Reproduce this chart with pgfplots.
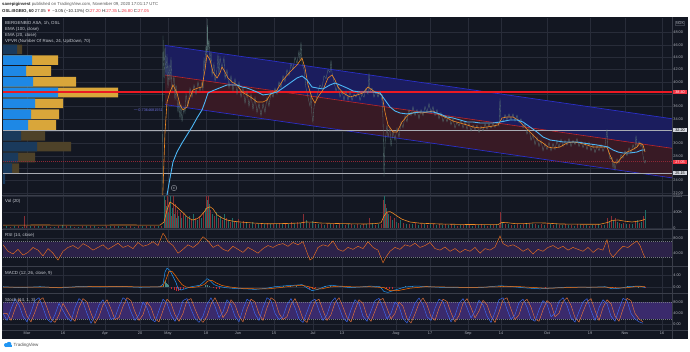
\documentclass[border=0pt]{standalone}
\usepackage{pgfplots}
\pgfplotsset{compat=1.18}
\usepackage{fontspec}
\setmainfont{Liberation Sans}
\definecolor{bg}{HTML}{131722}
\definecolor{gridc}{HTML}{282C39}
\definecolor{sepc}{HTML}{3A3E4A}
\definecolor{axt}{HTML}{B2B5BE}
\definecolor{lgt}{HTML}{C8CBD3}
\definecolor{emab}{HTML}{4DB6F5}
\definecolor{emao}{HTML}{F08A24}
\definecolor{chanB}{HTML}{1B1D5E}
\definecolor{chanR}{HTML}{381A25}
\definecolor{chanLB}{HTML}{2A2FC8}
\definecolor{chanLR}{HTML}{C0262E}
\definecolor{pocred}{RGB}{235,25,35}
\definecolor{hline}{HTML}{A8ABB3}
\definecolor{vpB}{HTML}{1E88E5}
\definecolor{vpY}{HTML}{D9A63A}
\definecolor{vpBd}{HTML}{1A3A5C}
\definecolor{vpYd}{HTML}{4E4229}
\definecolor{candle}{HTML}{5A7775}
\definecolor{volT}{HTML}{1F6E68}
\definecolor{volR}{HTML}{8A2E35}
\definecolor{rsiband}{HTML}{2C2249}
\definecolor{stband}{HTML}{3A2A6C}
\definecolor{rsil}{HTML}{EE7020}
\definecolor{macdb}{HTML}{2196F3}
\definecolor{macdo}{HTML}{FF6D00}
\definecolor{stK}{HTML}{3D6BF5}
\definecolor{stD}{HTML}{E8743B}
\definecolor{tvred}{HTML}{F23645}
\definecolor{tvlight}{HTML}{D1D4DC}
\pgfplotsset{
 panel/.style={scale only axis, width=669pt, xmin=3, xmax=672,
   axis line style={draw=none}, major tick length=0pt, tick style={draw=none},
   xtick={27,63,105,140,168,206,238,274,313,342,396,430,468,501,547,590,625,662},
   xticklabels={}, grid=major, major grid style={draw=gridc, line width=0.4pt},
   yticklabel pos=right,
   yticklabel style={font=\fontsize{3.8}{4}\selectfont, text=axt, anchor=west, xshift=1.2pt, inner sep=0pt},
   clip mode=individual, anchor=south west},
}
\begin{document}
\begin{tikzpicture}[x=1pt,y=1pt]
\useasboundingbox (0,0) rectangle (690,351);
\fill[white] (0,0) rectangle (690,351);
\fill[bg] (2,12) rectangle (688,334);

% ===== main price panel =====
\begin{axis}[panel, at={(3pt,156pt)}, height=177pt, ymin=21.63, ymax=50.36,
  ytick={22,24,26,28,30,32,34,36,38,40,42,44,46,48},
  yticklabels={22.00,24.00,,28.00,30.00,,34.00,36.00,,40.00,42.00,44.00,46.00,48.00}]
% VPVR
\addplot[xbar, bar shift=0pt, bar width=1.57, fill=vpY, draw=none] table {
x y
58 43.52
51 41.77
76 40.01
118 38.26
63 36.50
59 34.75
56 32.99
};
\addplot[xbar, bar shift=0pt, bar width=1.57, fill=vpB, draw=none] table {
x y
32 43.52
26 41.77
33 40.01
58 38.26
35 36.50
31 34.75
28 32.99
};
\addplot[xbar, bar shift=0pt, bar width=1.57, fill=vpYd, draw=none] table {
x y
22 45.27
45 31.24
71 29.48
35 27.73
19 25.97
};
\addplot[xbar, bar shift=0pt, bar width=1.57, fill=vpBd, draw=none] table {
x y
17 45.27
21 31.24
37 29.48
18 27.73
12 25.97
5 24.22
};
% regression channel
\addplot[fill=chanB, draw=none] coordinates {(165,45.91) (672,34.01) (672,29.21) (165,41.11)} -- cycle;
\addplot[fill=chanR, draw=none] coordinates {(165,41.11) (672,29.21) (672,24.41) (165,36.31)} -- cycle;
\addplot[chanLB, line width=0.7pt] coordinates {(165,45.91) (672,34.01)};
\addplot[chanLR, line width=0.6pt] coordinates {(165,41.11) (672,29.21)};
\addplot[chanLB, line width=0.7pt] coordinates {(165,36.31) (672,24.41)};
% horizontal lines
\addplot[hline, line width=0.6pt] coordinates {(3,32.2) (672,32.2)};
\addplot[hline, line width=0.6pt] coordinates {(3,25.15) (672,25.15)};
\addplot[tvred!55!bg, line width=0.4pt, dash pattern=on 1pt off 1pt] coordinates {(3,27.05) (672,27.05)};
\addplot[color=pocred, fill=pocred, draw=none] coordinates {(3,38.25) (672,38.25) (672,38.55) (3,38.55)} -- cycle;
% candles (high/low path)
\addplot[candle, line width=0.3pt] table {
x y
162 21.0
163 47.5
164 40
165 46
166 41
167 44.5
168 39
169 43
170 40
171 44
172 38.5
174 41
175 37
176 39.5
178 35
179 37
180 34
181 36.5
182 33.5
184 36
185 35
186 38
188 36
190 39
192 37.5
194 39.5
196 38
198 40
200 38.5
202 40
203 38.5
204 44
205 42
206 46
207 44
207.5 50.2
208 45
209 47
210 43
211 45
212 41
214 43
215 40
217 42
218 44.5
219 41
220 44
222 42
224 44
225 40.5
227 42
229 39
231 41
233 38.5
235 40.5
237 38
239 40
241 37.5
243 39
245 36.5
247 38.5
249 36
251 38
253 35.5
255 37.5
257 35
259 36.5
261 34.5
263 36.5
265 35
267 37.5
269 36
271 38.5
273 37.5
275 39
277 38
279 40
281 39
283 41
285 40
287 42
289 41
291 43
293 42
295 44
297 43
299 45
300 43.5
301 46.5
302 43
304 42
306 39
308 37.5
310 36
311 38
312 34.5
313 33.4
314 36
316 37
318 38.5
320 39.5
322 39
324 41
326 40.5
328 42
330 41.5
331 43.5
332 41.5
334 40
336 38.5
338 39.5
340 37.5
342 38.5
344 37
346 38.5
348 37
350 38.5
352 37
354 38
356 37.5
358 38.5
360 37
362 38
364 37.5
366 39
368 38
369 41.5
370 38.5
372 39
374 37.5
376 38.5
378 37.5
380 38.5
382 37
383 34
384 24.6
385 30
387 33
388 31
390 32.5
391 29.5
393 32
395 30.5
397 32.5
399 31
401 33.5
403 32.5
405 34.5
407 33.5
409 35.5
411 34.5
413 36
415 34.5
417 35.5
419 34
421 35.5
423 34.5
425 36
427 35
429 36.5
431 35
433 36
435 34.5
437 35.5
439 34
441 35
443 33.5
445 34.5
447 33.5
449 34.5
451 33
453 34
455 32.5
457 33.5
459 32.8
461 33.8
463 32.5
465 33.5
467 32.3
469 33.3
471 32
473 33
475 32.2
477 33
479 31.8
481 32.8
483 32
485 33.2
487 32.3
489 33.2
491 32.5
493 33.2
495 32.6
497 33.5
499 32.8
500 37.3
501 34
503 33.5
505 34.7
507 33.8
509 34.8
511 33.8
513 34.8
515 33.6
517 34.6
519 33.4
521 34
523 32.5
525 33.2
527 31.5
529 32.5
531 30.5
533 31.5
535 29.8
537 31
539 29.5
541 30.5
543 28.8
545 30
547 29
549 30.2
551 28.8
553 30
555 29
557 30.5
559 29.3
561 30.7
563 29.5
565 30.5
567 29.7
569 30.8
571 29.5
573 30.5
575 29.8
577 30.8
579 29.5
581 30.3
583 29.3
585 30.2
587 29
589 30.2
591 28.8
593 29.8
595 28.5
597 29.6
599 28.8
601 29.8
603 28.7
605 29.6
607 32.3
608 29
610 27.5
612 27.8
613 26
614 27
615 25.7
617 27.5
619 26.8
621 28.2
623 27.6
625 28.8
627 28
629 29.3
631 28.5
633 29.8
635 29
636 31.3
637 29.5
639 30.3
641 29.5
642 30
643 28
644 27.2
645 26.8
645.5 27.3
};
% EMA 20
\addplot[emao, line width=0.6pt] table {
x y
162 18
165 31.86
167 36.73
170 38.35
173 39.49
177 38.19
180 36.24
183 35.43
187 35.92
190 37.54
193 38.68
198 39.00
202 39.16
205 41.92
207 44.36
210 43.55
213 41.60
217 40.62
220 41.44
222 42.41
225 41.60
228 40.62
232 39.97
237 39.49
242 38.35
247 37.87
252 37.38
257 36.73
263 36.73
267 37.05
270 37.87
277 38.68
283 40.30
290 41.60
297 42.73
302 43.87
305 42.25
308 39.49
312 37.38
315 36.57
318 37.54
323 38.68
328 40.62
332 41.11
335 40.30
338 39.16
343 38.19
350 37.54
357 37.87
363 38.19
368 39.16
372 38.68
377 38.19
382 37.87
385 35.11
388 33.00
393 31.86
397 31.86
402 33.48
408 34.62
415 35.11
422 34.94
428 35.11
433 35.27
440 34.62
447 34.13
453 33.64
460 33.32
467 33.00
473 32.67
480 32.51
487 32.67
493 32.83
498 33.00
502 34.13
507 34.29
513 34.29
518 33.81
523 33.00
528 32.18
533 31.37
538 30.56
543 30.07
548 29.42
553 29.26
560 29.42
567 30.07
573 30.24
580 30.07
587 29.75
593 29.42
600 29.42
607 29.42
610 28.12
613 26.99
617 26.82
622 27.80
627 28.61
632 28.94
637 29.42
640 30.07
643 29.75
645 28.61
};
% EMA 100
\addplot[emab, line width=0.9pt] table {
x y
166 19
167 21.63
170 24.39
173 26.99
177 28.61
182 30.07
187 31.37
192 32.67
197 34.13
202 35.43
205 36.73
208 38.19
212 38.51
217 38.84
222 39.16
227 39.49
232 39.49
237 39.49
242 39.16
247 39.00
252 38.68
257 38.35
263 37.87
270 38.03
277 38.35
283 39.00
290 39.81
297 40.62
302 40.95
307 40.30
312 39.16
317 39.00
323 38.84
330 39.49
335 39.81
340 39.49
347 39.00
353 38.51
360 38.35
367 38.35
373 38.35
380 38.19
385 37.05
390 35.92
395 35.27
400 34.94
407 34.78
413 34.94
420 35.11
427 35.11
433 35.11
440 34.78
447 34.29
453 34.13
460 33.81
467 33.48
473 33.48
480 33.32
487 33.32
493 33.32
500 33.48
505 33.64
510 33.81
517 33.81
523 33.48
530 32.67
537 31.86
543 31.05
550 30.56
557 30.40
563 30.24
570 30.24
577 30.24
583 30.07
590 29.91
597 29.75
603 29.59
608 29.42
613 28.94
618 28.61
623 28.45
630 28.45
637 28.61
642 28.94
645 28.94
};
\node[circle, draw=axt, line width=0.3pt, inner sep=0pt, minimum size=5.5pt, font=\fontsize{3}{3}\selectfont, text=axt] at (axis cs:174,22.77) {E};
\end{axis}

% ===== volume =====
\begin{axis}[panel, at={(3pt,122.5pt)}, height=32.8pt, ymin=-12.5, ymax=807.5,
  ytick={0,400,800}, yticklabels={0,400K,800K}]
\addplot[ycomb, draw=volT, line width=0.6pt] table {
x y
6 40
14 55
22 35
30 60
38 45
46 50
54 30
62 70
70 40
78 35
86 50
94 45
102 30
110 55
118 40
126 60
134 35
142 45
150 50
158 40
164 820
166 550
168 400
170 820
172 500
174 350
176 250
178 300
181 250
185 300
189 300
193 350
197 200
201 250
205 500
207 700
209 600
212 350
216 400
220 300
224 350
228 200
232 250
236 150
240 130
246 120
252 140
258 90
264 100
270 90
276 100
282 90
288 100
294 110
300 120
306 200
312 180
318 90
324 80
330 90
336 80
342 90
348 100
354 70
360 80
366 90
372 120
378 90
384 820
386 500
388 350
392 200
396 150
400 200
406 100
412 90
418 80
424 90
430 110
436 70
442 80
448 70
454 80
460 80
466 90
472 60
478 70
484 70
490 80
496 90
502 150
508 90
514 70
520 80
526 120
532 110
538 80
544 70
550 100
556 90
562 80
568 70
574 60
580 70
586 70
592 80
598 90
604 80
609 150
613 200
617 150
621 100
626 90
632 100
637 200
641 150
645 450
};
\addplot[ycomb, draw=volR, line width=0.6pt] table {
x y
10 35
18 50
24 310
26 45
34 40
42 55
50 35
58 45
66 50
74 30
82 40
90 55
98 35
106 45
114 50
122 35
130 45
138 55
146 40
154 50
161 60
165 700
167 820
169 650
171 300
173 820
175 600
177 450
180 400
183 350
187 250
191 200
195 250
199 300
203 400
206 820
208 820
210 450
214 300
218 250
222 200
226 250
230 150
234 180
238 220
243 180
249 100
255 110
261 120
267 130
273 110
279 130
285 120
291 140
297 150
303 350
309 120
315 100
321 110
327 100
333 110
339 100
345 80
351 90
357 90
363 100
369 250
375 80
381 110
383 700
385 600
387 400
390 300
394 250
398 120
403 130
409 110
415 120
421 100
427 80
433 90
439 90
445 100
451 90
457 60
463 70
469 70
475 80
481 90
487 60
493 70
499 80
500 400
505 100
511 80
517 90
523 100
529 90
535 100
541 90
547 120
553 80
559 70
565 90
571 80
577 90
583 80
589 60
595 70
601 70
607 250
611 300
615 250
619 120
623 130
629 110
635 150
639 120
643 300
};
\addplot[emao, line width=0.6pt] table {
x y
3 70
40 75
80 70
120 75
160 72
164 150
167 450
170 650
173 600
177 520
180 450
184 360
187 280
190 230
193 200
197 230
200 280
204 400
207 500
210 530
213 480
217 330
222 250
227 200
233 170
240 150
253 125
267 105
280 110
290 115
300 125
306 150
313 145
320 125
333 115
350 105
365 100
375 110
381 130
384 300
387 400
390 410
393 370
397 300
402 220
410 150
420 120
440 100
460 90
480 85
498 85
502 140
508 130
515 110
525 110
535 130
545 125
560 100
580 95
600 95
608 140
612 190
618 200
625 170
632 150
638 170
642 190
645 220
};
\end{axis}

% ===== RSI =====
\begin{axis}[panel, at={(3pt,85pt)}, height=36.5pt, ymin=6.55, ymax=101.85,
  ytick={40,80}, yticklabels={40.00,80.00}]
\addplot[fill=rsiband, draw=none] coordinates {(3,30) (672,30) (672,70) (3,70)} -- cycle;
\addplot[axt!60!bg, line width=0.4pt, dash pattern=on 1pt off 1pt] coordinates {(3,70) (672,70)};
\addplot[axt!60!bg, line width=0.4pt, dash pattern=on 1pt off 1pt] coordinates {(3,30) (672,30)};
\addplot[rsil, line width=0.45pt] table {
x y
3 62
8 45
13 38
18 50
23 35
28 42
33 55
38 48
43 33
48 52
53 40
58 22
63 45
68 55
73 60
78 52
83 65
88 58
93 48
98 55
103 62
108 50
113 58
118 66
123 55
128 60
133 52
138 68
143 58
148 62
153 70
158 60
163 92
165 85
168 70
173 60
178 40
183 50
188 62
193 55
198 65
203 83
208 72
213 55
218 62
223 50
228 45
233 58
238 50
243 42
248 55
253 48
258 40
263 52
268 60
273 55
278 62
283 65
288 58
293 68
298 62
303 70
308 35
310 22
313 28
318 55
323 62
328 58
333 72
338 50
343 45
348 55
353 50
358 58
363 52
368 70
373 55
378 48
383 15
386 30
390 45
395 55
400 50
405 62
410 58
415 66
420 55
425 60
430 68
435 52
440 48
445 56
450 45
455 52
460 42
465 50
470 45
475 55
480 40
485 52
490 48
495 56
500 85
503 65
508 58
513 62
518 55
523 45
528 52
533 38
538 50
543 45
548 55
553 60
558 52
563 58
568 48
573 55
578 50
583 45
588 55
593 42
598 52
603 48
607 75
610 40
613 30
618 45
623 58
628 55
633 65
637 72
640 60
643 40
645 28
};
\end{axis}

% ===== MACD =====
\begin{axis}[panel, at={(3pt,58pt)}, height=26pt, ymin=-2, ymax=6.67,
  ytick={0,4}, yticklabels={0.00,4.00}]
\addplot[ycomb, draw=volT!80!white, line width=0.6pt] table {
x y
163 0.8
165 2.0
166 1.5
167 1.0
168 0.6
205 0.8
207 0.8
209 0.4
283 0.2
290 0.25
296 0.3
325 0.3
330 0.3
405 0.5
412 0.3
500 0.3
503 0.2
627 0.2
633 0.2
638 0.15
};
\addplot[ycomb, draw=tvred!80!black, line width=0.6pt] table {
x y
171 -0.5
174 -1.0
176 -1.3
178 -1.2
180 -0.9
183 -0.6
213 -0.3
216 -0.6
219 -0.5
309 -0.6
312 -0.7
315 -0.4
386 -0.8
389 -0.7
392 -0.5
545 -0.2
612 -0.4
615 -0.3
645 -0.3
};
\addplot[macdb, line width=0.5pt] table {
x y
3 0.1
20 -0.2
40 0.1
60 -0.3
80 0.2
100 0
120 0.2
140 -0.1
160 0.1
163 1
165 5
167 6.3
170 5.5
173 3.5
176 1.5
178 -0.5
181 -1
185 -0.6
190 0
195 0.3
200 0.6
204 1.8
207 2.8
210 2.2
214 0.8
218 0.3
225 -0.2
235 -0.5
245 -0.6
255 -0.8
265 -0.5
275 0.1
285 0.4
295 0.6
302 0.8
308 -0.5
312 -1.2
318 -0.8
325 0.2
332 0.6
340 0.2
350 -0.2
360 0
370 0.3
380 0.1
384 -1.5
388 -1.8
395 -1
405 0
415 0.3
425 0.2
440 -0.1
460 -0.2
480 -0.2
500 0.4
510 0.2
525 -0.3
540 -0.6
555 -0.3
570 0
590 -0.1
605 0.1
612 -0.6
620 -0.4
630 0.2
640 0.3
645 -0.2
};
\addplot[macdo, line width=0.5pt] table {
x y
3 0
30 -0.05
60 -0.1
90 0.1
120 0.1
160 0.05
163 0.3
166 2.5
169 5.2
172 5.2
175 4
178 2.5
182 0.8
186 0
192 -0.2
198 0.1
204 0.8
208 2
212 2.2
216 1.4
222 0.5
230 0
240 -0.4
255 -0.6
268 -0.6
280 -0.2
292 0.3
302 0.6
310 0
316 -0.7
322 -0.6
330 0
340 0.3
355 0
370 0.1
384 -0.2
390 -1.2
398 -1.2
410 -0.4
425 0.1
445 0
470 -0.15
500 0.1
515 0.2
530 -0.1
545 -0.4
560 -0.3
580 -0.05
605 0
615 -0.3
625 -0.3
635 0.1
645 0.1
};
\end{axis}

% ===== Stoch =====
\begin{axis}[panel, at={(3pt,21pt)}, height=36pt, ymin=-18.9, ymax=108.3,
  ytick={0,40,80}, yticklabels={0.00,40.00,80.00},
  xticklabels={Mar,16,Apr,20,May,18,Jun,15,Jul,13,Aug,17,Sep,14,Oct,19,Nov,16},
  xticklabel style={font=\fontsize{3.8}{4}\selectfont, text=axt, inner sep=1.2pt, anchor=north}]
\addplot[fill=stband, draw=none] coordinates {(3,20) (672,20) (672,80) (3,80)} -- cycle;
\addplot[axt!60!bg, line width=0.4pt, dash pattern=on 1pt off 1pt] coordinates {(3,80) (672,80)};
\addplot[axt!60!bg, line width=0.4pt, dash pattern=on 1pt off 1pt] coordinates {(3,20) (672,20)};
\pgfplotstableread{
x k d
3 40 40
7 15 40
11 55 15
15 90 55
19 70 90
23 30 70
27 10 30
31 45 10
35 85 45
39 95 85
43 60 95
47 20 60
51 8 20
55 35 8
59 75 35
63 50 75
67 25 50
71 12 25
75 60 12
79 92 60
83 80 92
87 40 80
91 5 40
95 30 5
99 70 30
103 88 70
107 55 88
111 18 55
115 25 18
119 65 25
123 95 65
127 85 95
131 45 85
135 15 45
139 35 15
143 80 35
147 60 80
151 20 60
155 10 20
159 50 10
163 90 50
167 75 90
171 35 75
175 12 35
179 40 12
183 85 40
187 92 85
191 55 92
195 22 55
199 8 22
203 30 8
207 72 30
211 95 72
215 65 95
219 25 65
223 45 25
227 88 45
231 70 88
235 30 70
239 10 30
243 55 10
247 90 55
251 80 90
255 38 80
259 15 38
263 60 15
267 95 60
271 85 95
275 40 85
279 18 40
283 28 18
287 70 28
291 92 70
295 60 92
299 20 60
303 8 20
307 45 8
311 82 45
315 90 82
319 50 90
323 15 50
327 35 15
331 78 35
335 95 78
339 62 95
343 25 62
347 10 25
351 52 10
355 88 52
359 75 88
363 30 75
367 12 30
371 48 12
375 85 48
379 93 85
383 58 93
387 20 58
391 40 20
395 80 40
399 65 80
403 22 65
407 6 22
411 38 6
415 76 38
419 94 76
423 70 94
427 28 70
431 15 28
435 58 15
439 90 58
443 82 90
447 42 82
451 10 42
455 32 10
459 75 32
463 92 75
467 60 92
471 24 60
475 48 24
479 86 48
483 70 86
487 30 70
491 8 30
495 44 8
499 88 44
503 95 88
507 55 95
511 18 55
515 35 18
519 78 35
523 90 78
527 62 90
531 20 62
535 12 20
539 52 12
543 85 52
547 72 85
551 28 72
555 40 28
559 82 40
563 95 82
567 68 95
571 25 68
575 9 25
579 46 9
583 80 46
587 92 80
591 50 92
595 15 50
599 60 15
603 88 60
607 74 88
611 30 74
615 12 30
619 55 12
623 93 55
627 85 93
631 40 85
635 20 40
639 10 20
643 5 10
}\stochtab
\addplot[stD, line width=0.45pt] table[x=x, y=d] {\stochtab};
\addplot[stK, line width=0.45pt] table[x=x, y=k] {\stochtab};
\end{axis}

% separators
\draw[sepc, line width=0.6pt] (2,155.5) -- (688,155.5);
\draw[sepc, line width=0.6pt] (2,122.2) -- (688,122.2);
\draw[sepc, line width=0.6pt] (2,84.5) -- (688,84.5);
\draw[sepc, line width=0.6pt] (2,57.5) -- (688,57.5);
\draw[sepc, line width=0.6pt] (2,20.5) -- (688,20.5);
\draw[sepc, line width=0.5pt] (672.3,12) -- (672.3,334);

% price-axis markers
\begin{scope}[every node/.style={anchor=west, inner sep=0.7pt, font=\fontsize{3.8}{4}\selectfont, minimum width=14.5pt}]
\node[fill=tvred, text=white] at (672.6,259.3) {38.40};
\node[fill=tvlight, text=black] at (672.6,221) {32.20};
\node[fill=tvred, text=white] at (672.6,189) {27.05};
\node[fill=tvlight, text=black] at (672.6,177.7) {25.15};
\end{scope}
\node[font=\fontsize{3.6}{4}\selectfont, text=axt, draw=sepc, line width=0.3pt, inner sep=0.6pt] at (680,328.2) {NOK};

% legends
\begin{scope}[every node/.style={anchor=west, inner sep=0pt, font=\fontsize{4.4}{5}\selectfont, text=lgt}]
\node at (5,328) {BERGENBIO ASA, 1h, OSL};
\node at (5,322) {EMA (100, close)};
\node at (5,316) {EMA (20, close)};
\node at (5,310) {VPVR (Number Of Rows, 24, Up/Down, 70)};
\node at (5,150) {Vol (20)};
\node at (5,116) {RSI (14, close)};
\node at (5,78) {MACD (12, 26, close, 9)};
\node at (5,51) {Stoch (14, 1, 3)};
\end{scope}
\node[anchor=east, inner sep=0pt, font=\fontsize{3.8}{4}\selectfont, text=chanLB!70!white] at (163,241) {$-$0.7364681551};

% header
\node[anchor=base west, inner sep=0pt, font=\fontsize{4.3}{5}\selectfont, text=black!65] at (2,345.3)
  {\textbf{\color{black!85}savepiginvest} published on TradingView.com, November 09, 2020 17:01:17 UTC};
\node[anchor=base west, inner sep=0pt, font=\fontsize{4.3}{5}\selectfont, text=black!85] at (2,338.3)
  {\textbf{OSL:BGBIO, 60} 27.05 {\color{tvred}▼} −3.05 (−10.13\%) O:{\color{tvred}27.20} H:{\color{tvred}27.35} L:{\color{tvred}26.80} C:{\color{tvred}27.05}};

% footer logo
\fill[macdb] (6,6) circle (2pt);
\fill[macdb] (9,6.8) circle (2.4pt);
\fill[macdb] (5,4) rectangle (11.5,6);
\node[anchor=west, inner sep=0pt, font=\fontsize{4.5}{5}\selectfont, text=black!70] at (13.5,5.5) {TradingView};
\end{tikzpicture}
\end{document}
